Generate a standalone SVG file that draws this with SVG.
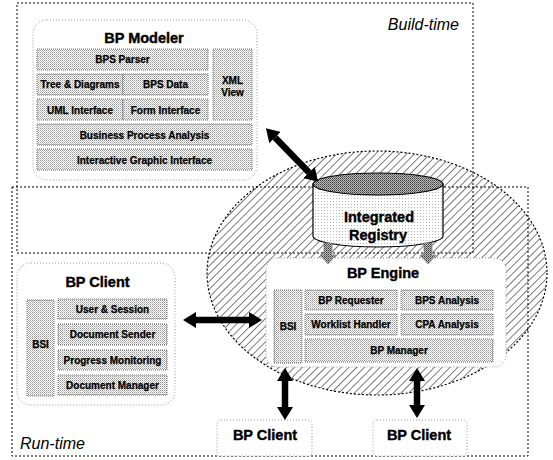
<svg xmlns="http://www.w3.org/2000/svg" width="553" height="460" viewBox="0 0 553 460">
<defs>
<pattern id="stip" width="2" height="2" patternUnits="userSpaceOnUse">
<rect width="2" height="2" fill="#fff"/>
<rect width="1" height="1" fill="#9a9a9a"/>
<rect x="1" y="1" width="1" height="1" fill="#c4c4c4"/>
</pattern>
<pattern id="stipLight" width="3" height="3" patternUnits="userSpaceOnUse">
<rect width="3" height="3" fill="#fff"/>
<rect width="1" height="1" fill="#b8b8b8"/>
</pattern>
<pattern id="stipDark" width="2" height="2" patternUnits="userSpaceOnUse">
<rect width="2" height="2" fill="#bdbdbd"/>
<rect width="1" height="1" fill="#3a3a3a"/>
<rect x="1" y="1" width="1" height="1" fill="#6a6a6a"/>
</pattern>
<pattern id="hatch" width="5.5" height="5.5" patternUnits="userSpaceOnUse" patternTransform="rotate(45)">
<rect width="5.5" height="5.5" fill="#fff"/>
<line x1="0.5" y1="0" x2="0.5" y2="5.5" stroke="#5a5a5a" stroke-width="0.8"/>
</pattern>
<marker id="ah" viewBox="0 -8 13 16" refX="0" refY="0" markerWidth="13" markerHeight="16" markerUnits="userSpaceOnUse" orient="auto-start-reverse">
<path d="M0,-8 L13,0 L0,8 Z" fill="#000"/>
</marker>
</defs>
<style>
.zone{fill:none;stroke:#000;stroke-width:1;stroke-dasharray:2,2}
.node{fill:#fff;stroke:#999;stroke-width:1;stroke-dasharray:1,2}
.item{fill:url(#stip);stroke:#4a4a4a;stroke-width:0.8;stroke-dasharray:1,1}
.t{font-family:"Liberation Sans",Arial,sans-serif;font-weight:bold;font-size:10px;fill:#000;text-anchor:middle;stroke:#000;stroke-width:0.25}
.title{font-family:"Liberation Sans",Arial,sans-serif;font-weight:bold;font-size:14.5px;fill:#000;text-anchor:middle;stroke:#000;stroke-width:0.4}
.zl{font-family:"Liberation Sans",Arial,sans-serif;font-style:italic;font-size:16px;fill:#000}
.big{stroke:#000;stroke-width:6.5;fill:none;marker-start:url(#ah);marker-end:url(#ah)}
.gray{fill:url(#stipDark);stroke:#777;stroke-width:0.6}
</style>
<rect width="553" height="460" fill="#fff"/>

<g id="region">
<ellipse cx="377" cy="273" rx="170" ry="122" fill="url(#hatch)" stroke="#000" stroke-width="1.2" stroke-dasharray="2,2"/>
</g>

<g id="build-time">
<rect class="zone" x="17" y="3" width="456" height="250"/>
<text class="zl" x="459" y="30" text-anchor="end">Build-time</text>
</g>
<g id="run-time">
<rect class="zone" x="12" y="187" width="516" height="269"/>
<text class="zl" x="20" y="449">Run-time</text>
</g>

<g id="bp-modeler">
<rect class="node" x="33" y="20" width="224" height="160" rx="14"/>
<text class="title" x="144" y="43">BP Modeler</text>
<rect class="item" x="37" y="49" width="171" height="21"/>
<text class="t" x="122.5" y="63">BPS Parser</text>
<rect class="item" x="37" y="74" width="86" height="21"/>
<text class="t" x="80" y="88">Tree &amp; Diagrams</text>
<rect class="item" x="123" y="74" width="85" height="21"/>
<text class="t" x="165.5" y="88">BPS Data</text>
<rect class="item" x="37" y="99" width="86" height="21"/>
<text class="t" x="80" y="113.5">UML Interface</text>
<rect class="item" x="123" y="99" width="85" height="21"/>
<text class="t" x="165.5" y="113.5">Form Interface</text>
<rect class="item" x="213" y="49" width="39" height="71"/>
<text class="t" x="232.5" y="83.5">XML</text>
<text class="t" x="232.5" y="95.5">View</text>
<rect class="item" x="37" y="124" width="215" height="21"/>
<text class="t" x="144.5" y="138.5">Business Process Analysis</text>
<rect class="item" x="37" y="149" width="215" height="21"/>
<text class="t" x="144.5" y="163.5">Interactive Graphic Interface</text>
</g>

<g id="registry">
<path d="M313,184 L313,236 A65,11 0 0,0 443,236 L443,184 Z" fill="url(#stipLight)" stroke="#000" stroke-width="1.2"/>
<ellipse cx="378" cy="184" rx="65" ry="11" fill="url(#stipDark)" stroke="#000" stroke-width="1.2"/>
<text class="title" x="379" y="222">Integrated</text>
<text class="title" x="378" y="240">Registry</text>
</g>

<g id="bp-engine">
<rect class="node" x="266" y="258" width="240" height="109" rx="12"/>
<text class="title" x="383" y="278">BP Engine</text>
<rect class="item" x="274" y="290" width="28" height="73"/>
<text class="t" x="288" y="329.5">BSI</text>
<rect class="item" x="305" y="290" width="92" height="20"/>
<text class="t" x="351" y="303.5">BP Requester</text>
<rect class="item" x="401" y="290" width="92" height="20"/>
<text class="t" x="447" y="303.5">BPS Analysis</text>
<rect class="item" x="305" y="314" width="92" height="21"/>
<text class="t" x="351" y="328">Worklist Handler</text>
<rect class="item" x="401" y="314" width="92" height="21"/>
<text class="t" x="447" y="328">CPA Analysis</text>
<rect class="item" x="305" y="339" width="188" height="23"/>
<text class="t" x="399" y="354">BP Manager</text>
</g>

<g id="bp-client-main">
<rect class="node" x="17" y="263" width="158" height="142" rx="14"/>
<text class="title" x="97.5" y="287">BP Client</text>
<rect class="item" x="27" y="300" width="27" height="96"/>
<text class="t" x="40.5" y="347.5">BSI</text>
<rect class="item" x="58" y="299" width="109" height="20"/>
<text class="t" x="112.5" y="312.5">User &amp; Session</text>
<rect class="item" x="58" y="324" width="109" height="21"/>
<text class="t" x="112.5" y="338">Document Sender</text>
<rect class="item" x="58" y="350" width="109" height="20"/>
<text class="t" x="112.5" y="363.5">Progress Monitoring</text>
<rect class="item" x="58" y="375" width="109" height="20"/>
<text class="t" x="112.5" y="388.5">Document Manager</text>
</g>

<g id="bp-client-2">
<rect class="node" x="217" y="420" width="95" height="36" rx="4"/>
<text class="title" x="265" y="440">BP Client</text>
</g>
<g id="bp-client-3">
<rect class="node" x="373" y="420" width="94" height="36" rx="4"/>
<text class="title" x="419" y="440">BP Client</text>
</g>

<g id="connectors">
<line class="big" x1="275" y1="137.5" x2="309" y2="172.5"/>
<line class="big" x1="196" y1="320" x2="249" y2="320"/>
<line class="big" x1="285" y1="381" x2="285" y2="407"/>
<line class="big" x1="417" y1="381" x2="417" y2="405"/>
<polygon class="gray" points="324,243 332,243 332,255 336,255 328,264 320,255 324,255"/>
<polygon class="gray" points="424,243 432,243 432,255 436,255 428,264 420,255 424,255"/>
</g>
</svg>
